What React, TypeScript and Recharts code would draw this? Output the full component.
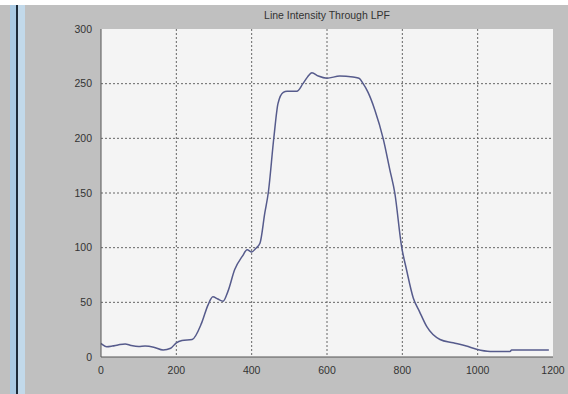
import { CartesianGrid, Line, LineChart, XAxis, YAxis } from "recharts";

const positions = [
  0, 5, 15, 30, 45, 64, 80, 100, 117, 140, 165, 185, 200, 215, 242, 267, 284, 297, 310, 324, 337, 355, 375, 388, 400,
  410, 422, 435, 444, 459, 470, 484, 494, 520, 536, 548, 560, 577, 600, 634, 669, 685, 696, 709, 727, 749, 767, 780,
  798, 811, 829, 845, 865, 900, 935, 970, 997, 1033, 1086, 1090, 1189,
];
const intensity = [
  12.5, 11, 9.4, 10, 11, 12, 10.5, 9.5, 10, 9, 6.4, 8, 13, 15, 16, 31, 47.5, 55, 53, 51, 60, 80, 92, 98, 96, 99, 104,
  132, 150, 201, 232, 242, 243, 243, 250, 256, 260, 257, 255, 257, 256, 255, 250, 242, 226, 200, 171, 150, 101, 80, 54,
  42, 27.7, 16, 13, 10, 7, 5, 5, 6.4, 6.4,
];
const xTicks = [0, 200, 400, 600, 800, 1000, 1200];
const yTicks = [0, 50, 100, 150, 200, 250, 300];

const tickStyle = { fontSize: 10.5, fill: "#333", fontFamily: "Liberation Sans, Arial, sans-serif" };

export default function App() {
  const data = positions.map((x, i) => ({ x, y: intensity[i] }));

  return (
    <div style={{ position: "fixed", left: 0, top: 0, width: 568, height: 394, background: "#c0c0c0" }}>
      {/* white strip at the top of the window */}
      <div style={{ position: "absolute", left: 0, top: 0, width: 568, height: 5, background: "#fff" }} />
      {/* blue window edge on the left */}
      <div style={{ position: "absolute", left: 10, top: 5, width: 6, height: 389, background: "#a9c9e2" }} />
      <div style={{ position: "absolute", left: 16, top: 5, width: 2, height: 389, background: "#1c2a38" }} />
      <div style={{ position: "absolute", left: 18, top: 5, width: 7, height: 389, background: "#c2d9ea" }} />
      <div
        style={{
          position: "absolute",
          left: 0,
          top: 9,
          width: 568,
          textAlign: "center",
          paddingLeft: 86,
          boxSizing: "border-box",
          fontSize: 10.5,
          color: "#333",
          fontFamily: "Liberation Sans, Arial, sans-serif",
          lineHeight: "12px",
        }}
      >
        Line Intensity Through LPF
      </div>
      <div style={{ position: "absolute", left: 0, top: 0 }}>
        <LineChart width={568} height={394} data={data} margin={{ top: 29, right: 15, left: 61, bottom: 0 }}>
          <CartesianGrid
            fill="#f4f4f4"
            stroke="#666"
            strokeDasharray="2 2"
            horizontalValues={[50, 100, 150, 200, 250]}
            verticalValues={[200, 400, 600, 800, 1000]}
          />
          <XAxis
            dataKey="x"
            type="number"
            domain={[0, 1200]}
            ticks={xTicks}
            height={37}
            tickLine={false}
            tickMargin={4}
            axisLine={{ stroke: "#555" }}
            tick={tickStyle}
          />
          <XAxis xAxisId="top" orientation="top" dataKey="x" type="number" domain={[0, 1200]} height={0} tick={false} tickLine={false} axisLine={{ stroke: "#555" }} />
          <YAxis
            type="number"
            domain={[0, 300]}
            ticks={yTicks}
            width={40}
            tickLine={false}
            tickMargin={3}
            axisLine={{ stroke: "#555" }}
            tick={tickStyle}
          />
          <YAxis yAxisId="right" orientation="right" domain={[0, 300]} width={0} tick={false} tickLine={false} axisLine={{ stroke: "#555" }} />
          <Line
            type="monotone"
            dataKey="y"
            stroke="#565b8c"
            strokeWidth={1.5}
            dot={false}
            isAnimationActive={false}
          />
        </LineChart>
      </div>
    </div>
  );
}
